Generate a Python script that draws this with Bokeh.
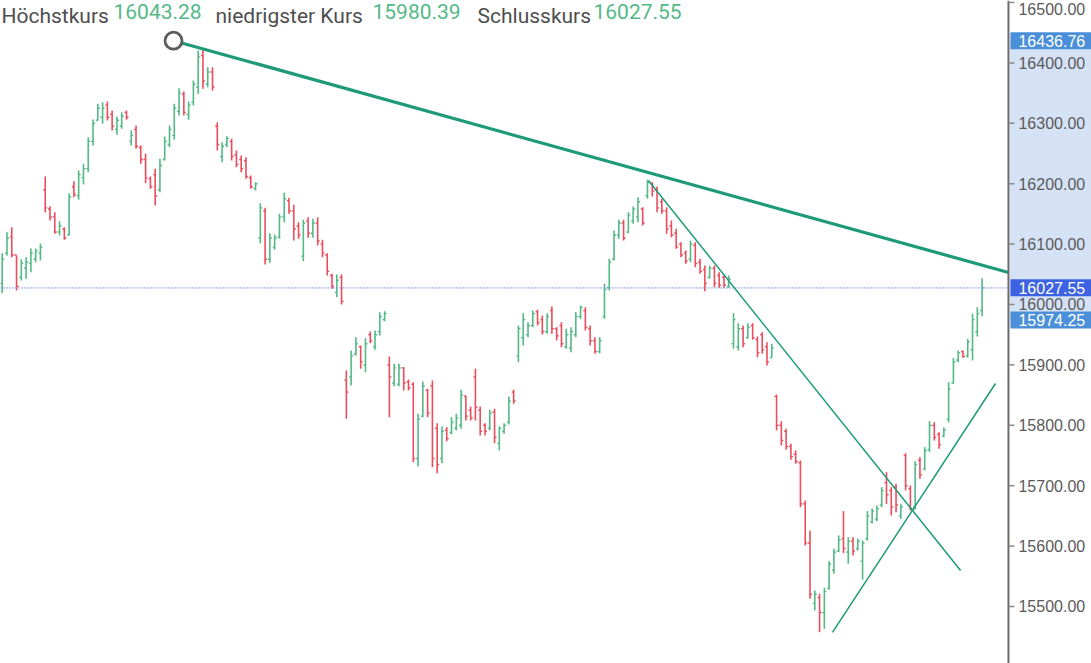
from bokeh.plotting import figure
from bokeh.models import ColumnDataSource, Range1d
from bokeh.core.properties import value
from bokeh.embed import file_html
from bokeh.resources import INLINE

# ---------------- data ----------------
opens = [16035, 16085, 16112, 16082, 16045, 16060, 16068, 16075, 16085, 16190,
         16158, 16145, 16120, 16125, 16115, 16195, 16180, 16210, 16225, 16270,
         16305, 16310, 16330, 16315, 16290, 16295, 16318, 16270, 16290, 16260,
         16240, 16208, 16215, 16190, 16240, 16265, 16280, 16320, 16348, 16315,
         16335, 16360, 16412, 16365, 16385, 16295, 16245, 16265, 16270, 16248,
         16240, 16238, 16210, 16192, 16110, 16155, 16075, 16095, 16112, 16145,
         16172, 16155, 16130, 16080, 16138, 16118, 16135, 16100, 16082, 16048,
         16020, 16045, 15875, 15880, 15918, 15930, 15900, 15950, 15930, 15955,
         15975, 15900, 15870, 15868, 15895, 15872, 15868, 15745, 15815, 15858,
         15865, 15795, 15745, 15792, 15788, 15795, 15800, 15848, 15825, 15880,
         15825, 15800, 15795, 15822, 15770, 15790, 15805, 15855, 15915, 15945,
         15950, 15965, 15988, 15975, 15955, 15990, 15960, 15965, 15930, 15928,
         15950, 15980, 15990, 15960, 15940, 15922, 15980, 16028, 16075, 16115,
         16135, 16120, 16138, 16145, 16158, 16180, 16200, 16190, 16170, 16155,
         16130, 16118, 16100, 16085, 16075, 16098, 16070, 16058, 16045, 16060,
         16048, 16045, 16030, 15935, 15930, 15960, 15945, 15965, 15942, 15950,
         15930, 15912, 15848, 15800, 15790, 15765, 15752, 15738, 15670, 15605,
         15505, 15515, 15490, 15530, 15560, 15592, 15612, 15590, 15608, 15596,
         15575, 15612, 15640, 15645, 15668, 15705, 15692, 15698, 15650, 15750,
         15695, 15665, 15742, 15728, 15760, 15800, 15785, 15782, 15810, 15870,
         15908, 15922, 15915, 15925, 15955, 15990]

highs = [16084.9, 16119.7, 16128.0, 16081.1, 16074.5, 16078.3, 16092.7, 16092.7, 16101.0, 16211.9,
         16162.7, 16152.8, 16137.9, 16128.0, 16183.8, 16204.1, 16221.8, 16232.9, 16277.0, 16306.3,
         16332.3, 16334.9, 16336.1, 16321.2, 16311.3, 16318.4, 16321.2, 16288.1, 16296.3, 16263.2,
         16249.5, 16211.9, 16224.7, 16241.2, 16278.1, 16296.3, 16332.3, 16358.1, 16352.6, 16336.1,
         16370.9, 16420.5, 16423.3, 16392.9, 16392.9, 16301.8, 16268.7, 16278.6, 16274.3, 16255.0,
         16246.7, 16243.9, 16213.6, 16202.5, 16167.7, 16160.1, 16118.0, 16115.9, 16150.2, 16184.9,
         16176.6, 16165.1, 16136.3, 16140.2, 16144.5, 16141.9, 16144.5, 16107.1, 16084.9, 16050.8,
         16049.7, 16049.7, 15890.7, 15923.8, 15945.9, 15932.1, 15944.2, 15955.3, 15957.0, 15987.3,
         15988.9, 15913.9, 15901.8, 15901.8, 15896.2, 15875.8, 15871.4, 15819.0, 15872.5, 15860.4,
         15874.2, 15803.5, 15798.0, 15796.9, 15813.4, 15819.0, 15858.8, 15849.3, 15831.1, 15893.6,
         15831.1, 15803.5, 15825.7, 15827.3, 15798.0, 15803.5, 15847.7, 15858.8, 15965.2, 15985.6,
         15970.7, 15990.1, 15991.2, 15981.8, 15985.6, 15996.7, 15962.4, 15970.7, 15959.8, 15962.4,
         15987.3, 15998.3, 15995.5, 15965.2, 15945.9, 15945.9, 16034.3, 16075.7, 16122.5, 16140.2,
         16140.2, 16152.8, 16162.2, 16177.6, 16161.1, 16206.5, 16202.5, 16195.4, 16175.0, 16161.1,
         16139.1, 16125.3, 16103.1, 16089.4, 16106.0, 16103.1, 16075.7, 16064.6, 16064.6, 16064.6,
         16053.5, 16048.0, 16048.0, 15985.6, 15969.0, 15965.2, 15969.0, 15969.0, 15947.0, 15954.1,
         15937.6, 15934.9, 15851.0, 15806.8, 15794.2, 15769.4, 15758.3, 15741.7, 15675.5, 15625.8,
         15526.5, 15521.0, 15531.0, 15575.0, 15595.5, 15617.6, 15657.8, 15614.7, 15614.7, 15612.1,
         15609.3, 15657.8, 15662.3, 15667.2, 15697.5, 15722.4, 15697.5, 15703.1, 15670.0, 15753.8,
         15700.3, 15740.6, 15747.2, 15763.8, 15806.8, 15805.1, 15788.6, 15796.9, 15871.4, 15911.8,
         15923.8, 15923.8, 15943.2, 15984.6, 15995.5, 16043.28]

lows = [16018.7, 16081.1, 16078.3, 16023.2, 16039.7, 16042.5, 16053.5, 16070.0, 16072.8, 16152.8,
        16139.1, 16117.0, 16114.2, 16107.1, 16114.2, 16177.6, 16173.3, 16198.7, 16219.0, 16263.2,
        16304.6, 16299.2, 16304.6, 16288.1, 16281.0, 16290.9, 16305.8, 16263.2, 16257.8, 16232.9,
        16200.8, 16191.6, 16163.9, 16185.9, 16238.4, 16260.4, 16272.7, 16312.9, 16312.9, 16305.8,
        16329.5, 16348.8, 16357.1, 16359.8, 16354.3, 16255.0, 16235.6, 16260.4, 16238.4, 16227.3,
        16219.0, 16208.1, 16191.6, 16188.7, 16101.5, 16066.2, 16069.0, 16090.6, 16108.8, 16136.3,
        16150.2, 16106.0, 16108.8, 16071.7, 16110.4, 16110.4, 16097.7, 16078.3, 16048.0, 16026.0,
        16012.1, 16000.0, 15810.8, 15865.9, 15915.6, 15893.6, 15887.9, 15935.9, 15925.0, 15948.7,
        15972.3, 15813.4, 15864.7, 15864.7, 15857.6, 15857.6, 15738.9, 15731.8, 15813.4, 15813.4,
        15730.6, 15720.7, 15737.2, 15773.7, 15784.8, 15791.4, 15794.2, 15807.9, 15807.9, 15807.9,
        15783.1, 15783.1, 15791.4, 15770.4, 15758.3, 15785.9, 15801.3, 15835.6, 15904.5, 15932.1,
        15945.9, 15962.4, 15965.2, 15950.3, 15951.5, 15951.5, 15940.4, 15929.3, 15926.7, 15921.0,
        15945.9, 15976.3, 15957.0, 15932.1, 15918.4, 15919.4, 15976.3, 16023.2, 16072.8, 16108.8,
        16106.0, 16118.0, 16133.6, 16136.3, 16130.8, 16175.0, 16178.8, 16152.8, 16150.2, 16117.0,
        16111.4, 16092.2, 16078.3, 16067.4, 16070.0, 16061.7, 16050.8, 16022.0, 16042.5, 16028.6,
        16027.6, 16027.6, 16027.6, 15926.7, 15923.8, 15929.3, 15943.2, 15941.6, 15912.7, 15918.4,
        15899.0, 15911.8, 15791.4, 15766.6, 15759.4, 15742.9, 15736.3, 15664.4, 15601.0, 15512.8,
        15493.4, 15457.5, 15463.1, 15527.6, 15554.1, 15589.9, 15588.3, 15570.7, 15584.4, 15592.7,
        15544.2, 15609.3, 15637.4, 15641.2, 15664.4, 15670.0, 15650.7, 15656.1, 15645.2, 15692.1,
        15658.9, 15660.1, 15711.4, 15725.2, 15755.5, 15774.8, 15761.1, 15780.3, 15805.1, 15868.7,
        15904.5, 15911.8, 15911.8, 15907.3, 15947.0, 15980.39]

closes = [16075, 16110, 16082, 16030, 16068, 16070, 16085, 16088, 16095, 16160,
          16145, 16120, 16130, 16110, 16178, 16182, 16215, 16225, 16270, 16300,
          16325, 16325, 16310, 16295, 16305, 16312, 16310, 16280, 16262, 16240,
          16210, 16195, 16180, 16230, 16270, 16290, 16325, 16350, 16318, 16330,
          16365, 16410, 16370, 16385, 16360, 16265, 16262, 16275, 16245, 16232,
          16225, 16212, 16195, 16200, 16160, 16075, 16110, 16110, 16145, 16175,
          16155, 16125, 16115, 16135, 16118, 16135, 16105, 16085, 16055, 16030,
          16040, 16005, 15855, 15915, 15935, 15905, 15935, 15940, 15950, 15980,
          15985, 15880, 15895, 15895, 15870, 15862, 15745, 15810, 15865, 15820,
          15745, 15735, 15790, 15778, 15805, 15812, 15850, 15815, 15812, 15830,
          15790, 15790, 15820, 15780, 15795, 15800, 15840, 15840, 15960, 15975,
          15965, 15985, 15970, 15955, 15980, 15960, 15948, 15935, 15950, 15955,
          15980, 15995, 15962, 15940, 15922, 15940, 16025, 16070, 16115, 16135,
          16110, 16148, 16158, 16170, 16135, 16202, 16188, 16160, 16155, 16125,
          16115, 16095, 16082, 16072, 16100, 16068, 16055, 16035, 16060, 16035,
          16032, 16032, 16042, 15975, 15960, 15935, 15962, 15945, 15920, 15925,
          15905, 15928, 15800, 15775, 15765, 15748, 15740, 15670, 15605, 15520,
          15520, 15490, 15525, 15570, 15590, 15610, 15596, 15608, 15592, 15608,
          15605, 15650, 15658, 15662, 15692, 15685, 15665, 15668, 15665, 15700,
          15662, 15735, 15718, 15758, 15800, 15780, 15768, 15792, 15860, 15905,
          15920, 15914, 15938, 15975, 15985, 16027.55]

# trend lines drawn on the chart (bar index, price)
trend_main_x = [35.84, 210.52]
trend_main_y = [16436.76, 16053.0]
trend_down_x = [135.2, 200.5]
trend_down_y = [16205.3, 15559.6]
trend_up_x = [173.7, 207.8]
trend_up_y = [15457.0, 15869.2]

# price marks on the scale
range_top = 16436.76
last_price = 16027.55
range_bottom = 15974.25

axis_ticks = [15500, 15600, 15700, 15800, 15900, 16000, 16100, 16200, 16300, 16400]
axis_tick_labels = ["15500.00", "15600.00", "15700.00", "15800.00", "15900.00", "16000.00",
                    "16100.00", "16200.00", "16300.00", "16400.00"]
top_tick = 16500
top_tick_label = "16500.00"

header_texts = ["Höchstkurs", "16043.28", "niedrigster Kurs", "15980.39", "Schlusskurs", "16027.55"]

# ---------------- layout / style ----------------
UP = "#53b987"
DOWN = "#eb4d5c"
TEAL = "#1f9a78"
GREY_TXT = "#4e4e4e"
AXIS_FONT = value("Liberation Sans")

W, H = 1091, 663
X_LO, X_HI = -0.356, 227.89          # bar-index range covered by the canvas
Y_LO, Y_HI = 15405.6, 16503.3        # price range covered by the canvas
PX = (X_HI - X_LO) / W               # bar-index units per pixel
PY = (Y_HI - Y_LO) / H               # price units per pixel
AXIS_X = 210.52                      # position of the price scale line

p = figure(width=W, height=H, output_backend="svg", toolbar_location=None,
           x_range=Range1d(X_LO, X_HI), y_range=Range1d(Y_LO, Y_HI),
           x_axis_location=None, y_axis_location=None,
           min_border_left=0, min_border_top=0, min_border_bottom=0, min_border_right=0)
p.background_fill_color = "white"
p.border_fill_color = "white"
p.outline_line_color = None
p.grid.visible = False

# shaded price range on the scale
p.quad(left=[AXIS_X + 1.5 * PX], right=[X_HI], top=[range_top], bottom=[range_bottom],
       fill_color="#d5e2f6", line_color=None)

# OHLC bars
idx = list(range(len(opens)))
tick = 2.0 * PX
colors = [UP if c >= o else DOWN for o, c in zip(opens, closes)]
src = ColumnDataSource(dict(x=idx, xl=[i - tick for i in idx], xr=[i + tick for i in idx],
                            o=opens, h=highs, l=lows, c=closes, color=colors))
p.segment("x", "l", "x", "h", source=src, line_color="color", line_width=1.6)
p.segment("xl", "o", "x", "o", source=src, line_color="color", line_width=1.4)
p.segment("x", "c", "xr", "c", source=src, line_color="color", line_width=1.4)

# last price dotted line
p.line([X_LO, AXIS_X], [last_price, last_price], line_color="#7f93e8",
       line_dash="1 2", line_width=1.8)

# trend lines
p.line(trend_down_x, trend_down_y, line_color=TEAL, line_width=1.5)
p.line(trend_up_x, trend_up_y, line_color=TEAL, line_width=1.5)
p.line(trend_main_x, trend_main_y, line_color=TEAL, line_width=3.2)
p.scatter([trend_main_x[0]], [trend_main_y[0]], marker="circle", size=17,
          fill_color="white", line_color="#5c5c5c", line_width=2.8)

# price scale: line, ticks, labels
p.segment(x0=[AXIS_X], y0=[Y_LO], x1=[AXIS_X], y1=[Y_HI], line_color="#6b6b6b", line_width=2)
all_ticks = axis_ticks + [top_tick]
p.segment(x0=[AXIS_X] * len(all_ticks), y0=all_ticks,
          x1=[AXIS_X + 6 * PX] * len(all_ticks), y1=all_ticks,
          line_color="#8a8a8a", line_width=1.5)
p.text(x=[AXIS_X + 10 * PX] * len(axis_ticks), y=axis_ticks, text=axis_tick_labels,
       text_font=AXIS_FONT, text_font_size=value("16px"), text_color="#5a5a5a",
       text_baseline="middle", text_align="left")
# the topmost label sits right at the upper edge: keep it whole
p.text(x=[AXIS_X + 10 * PX], y=[Y_HI - 2 * PY], text=[top_tick_label],
       text_font=AXIS_FONT, text_font_size=value("16px"), text_color="#5a5a5a",
       text_baseline="top", text_align="left")

# price boxes on the scale
box_prices = [range_top, last_price, range_bottom]
box_colors = ["#4a8fd8", "#3d63e3", "#4a8fd8"]
half_box = 8.5 * PY
p.quad(left=[AXIS_X + 2 * PX] * 3, right=[X_HI] * 3,
       top=[v + half_box for v in box_prices], bottom=[v - half_box for v in box_prices],
       fill_color=box_colors, line_color=None)
p.text(x=[AXIS_X + 10 * PX] * 3, y=box_prices, text=[f"{v:.2f}" for v in box_prices],
       text_font=AXIS_FONT, text_font_size=value("16px"), text_color="white",
       text_baseline="middle", text_align="left")

# header line at the top edge
header_px = [1, 113, 215, 372, 477, 593]
header_col = [GREY_TXT, UP, GREY_TXT, UP, GREY_TXT, UP]
p.text(x=[X_LO + hx * PX for hx in header_px], y=[Y_HI - 3 * PY] * len(header_texts),
       text=header_texts, text_color=header_col, text_font=value("Roboto"),
       text_font_size=value("21px"), text_baseline="top", text_align="left")

open("out.html", "w").write(file_html(p, INLINE))
